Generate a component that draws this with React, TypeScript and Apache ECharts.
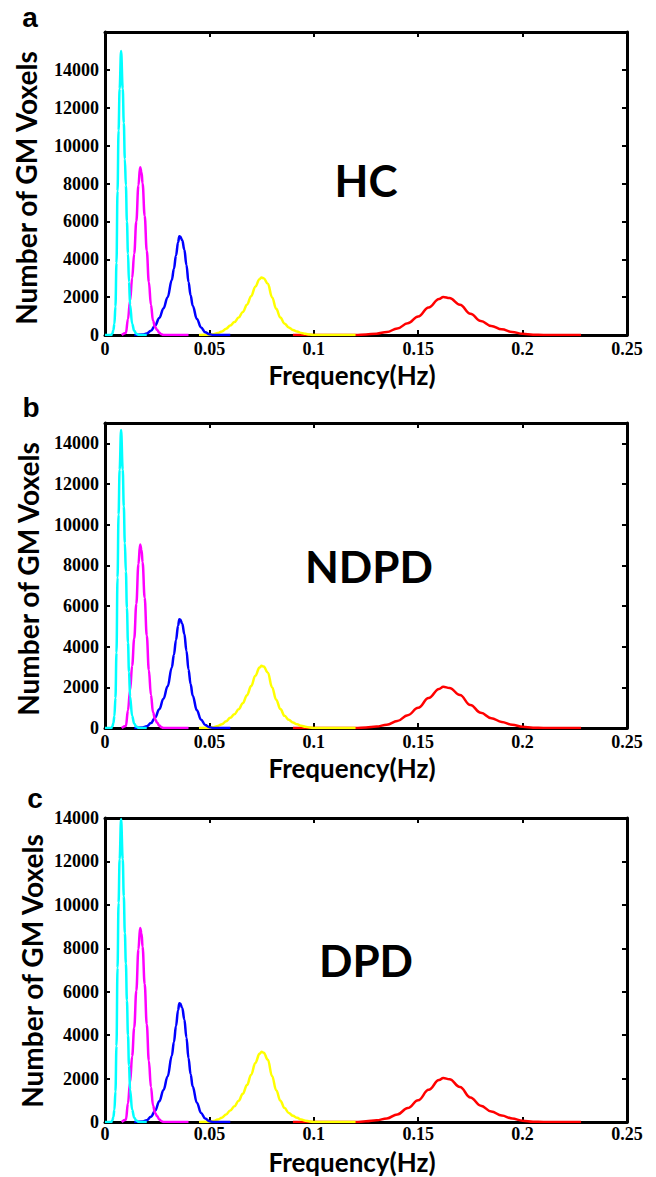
import React, { useEffect, useRef } from "react";
import * as echarts from "echarts";

// ---------- data ----------
const xTickValues = [0, 0.05, 0.1, 0.15, 0.2, 0.25];
const panelLetters = ["a", "b", "c"];
const panelTitles = ["HC", "NDPD", "DPD"];
const yMaxes = [16000, 15000, 14000];

const cyanF = [0, 0.003, 0.0035, 0.004, 0.0045, 0.005, 0.0055, 0.006, 0.0065, 0.007, 0.0077, 0.0085, 0.009, 0.0095, 0.01, 0.0105, 0.011, 0.0115, 0.012, 0.013, 0.014, 0.015, 0.016, 0.017, 0.02];
const cyanA = [0, 0, 60, 250, 600, 1500, 3800, 7600, 10800, 13000, 15000, 13000, 11200, 9300, 7900, 6000, 4300, 2800, 1600, 600, 220, 70, 15, 0, 0];
const cyanB = [0, 0, 60, 240, 590, 1470, 3700, 7400, 10500, 12700, 14650, 12700, 10900, 9100, 7700, 5900, 4200, 2750, 1550, 590, 210, 70, 15, 0, 0];
const cyanC = [0, 0, 55, 230, 560, 1400, 3500, 7100, 10100, 12100, 13950, 12100, 10400, 8700, 7300, 5600, 4000, 2600, 1500, 560, 200, 65, 15, 0, 0];

const magentaF = [0.008, 0.01, 0.011, 0.012, 0.013, 0.014, 0.015, 0.016, 0.0168, 0.0175, 0.018, 0.019, 0.02, 0.021, 0.022, 0.023, 0.024, 0.025, 0.026, 0.027, 0.028, 0.04];
const magentaA = [0, 100, 850, 1800, 3000, 4300, 6000, 7900, 8860, 8600, 8000, 6300, 4450, 2800, 1600, 750, 420, 260, 120, 40, 0, 0];
const magentaB = [0, 100, 870, 1840, 3060, 4400, 6100, 8050, 9030, 8750, 8150, 6400, 4550, 2850, 1630, 770, 430, 260, 120, 40, 0, 0];
const magentaC = [0, 100, 860, 1820, 3030, 4350, 6050, 7950, 8930, 8680, 8070, 6350, 4500, 2820, 1610, 760, 420, 260, 120, 40, 0, 0];

const blueF = [0.014, 0.018, 0.02, 0.022, 0.024, 0.026, 0.028, 0.03, 0.032, 0.033, 0.034, 0.035, 0.0356, 0.036, 0.037, 0.038, 0.039, 0.04, 0.041, 0.042, 0.044, 0.046, 0.048, 0.05, 0.052, 0.06];
const blueA = [0, 20, 80, 230, 500, 900, 1400, 2000, 2900, 3500, 4200, 4900, 5210, 5200, 5000, 4500, 3700, 2800, 2100, 1550, 850, 400, 150, 40, 0, 0];
const blueB = [0, 20, 80, 240, 510, 920, 1440, 2050, 2980, 3600, 4320, 5030, 5350, 5340, 5130, 4620, 3800, 2880, 2160, 1590, 870, 410, 150, 40, 0, 0];
const blueC = [0, 20, 85, 240, 520, 950, 1470, 2100, 3050, 3680, 4420, 5150, 5470, 5460, 5250, 4720, 3890, 2940, 2200, 1630, 890, 420, 160, 40, 0, 0];

const yellowF = [0.045, 0.05, 0.052, 0.054, 0.056, 0.058, 0.06, 0.062, 0.064, 0.066, 0.068, 0.07, 0.072, 0.074, 0.075, 0.076, 0.078, 0.08, 0.082, 0.084, 0.086, 0.088, 0.09, 0.092, 0.094, 0.096, 0.098, 0.1, 0.12];
const yellowA = [0, 15, 40, 100, 190, 330, 500, 680, 920, 1220, 1600, 2050, 2550, 2950, 3040, 3000, 2700, 2000, 1380, 920, 600, 400, 270, 180, 110, 60, 25, 5, 0];
const yellowB = [0, 15, 40, 100, 190, 330, 500, 680, 920, 1220, 1610, 2060, 2570, 2970, 3060, 3020, 2720, 2010, 1390, 930, 600, 400, 270, 180, 110, 60, 25, 5, 0];
const yellowC = [0, 15, 45, 110, 200, 350, 530, 720, 980, 1300, 1700, 2180, 2720, 3140, 3230, 3190, 2870, 2120, 1460, 980, 640, 420, 285, 190, 115, 62, 25, 5, 0];

const redF = [0.09, 0.12, 0.125, 0.13, 0.135, 0.14, 0.145, 0.15, 0.155, 0.16, 0.162, 0.165, 0.17, 0.175, 0.18, 0.185, 0.19, 0.195, 0.2, 0.205, 0.21, 0.228];
const redA = [0, 0, 30, 70, 160, 340, 620, 980, 1450, 1900, 2010, 1950, 1600, 1120, 740, 480, 300, 160, 60, 15, 0, 0];
const redB = [0, 0, 30, 70, 160, 345, 630, 990, 1470, 1920, 2030, 1970, 1620, 1130, 750, 485, 300, 160, 60, 15, 0, 0];
const redC = [0, 0, 30, 75, 165, 350, 640, 1000, 1480, 1930, 2030, 1970, 1610, 1130, 750, 485, 300, 160, 60, 15, 0, 0];

const panelSeries = [
  { cyan: cyanA, magenta: magentaA, blue: blueA, yellow: yellowA, red: redA },
  { cyan: cyanB, magenta: magentaB, blue: blueB, yellow: yellowB, red: redB },
  { cyan: cyanC, magenta: magentaC, blue: blueC, yellow: yellowC, red: redC },
];

// ---------- layout ----------
const W = 656;
const H = 1177;
const GRID_LEFT = 105;
const GRID_WIDTH = 522;
const gridTops = [32, 423, 818];
const gridHeights = [303, 305, 304];
const letterPos = [[30, 17], [31, 407], [35, 798]];
const yTitlePos = [[26, 188], [28, 579], [32, 971]];
const xTitleY = [375, 768, 1162];
const xLabelMargin = [5, 5, 3];
const titlePos = [[366, 180], [369, 566], [366, 960]];

const SANS = "Lato";
const SERIF = "Liberation Serif";

function buildOption() {
  const grids: any[] = [];
  const xAxes: any[] = [];
  const yAxes: any[] = [];
  const series: any[] = [];
  const graphics: any[] = [];

  const lineStyle = { color: "#000", width: 3 };
  const tick = { show: true, inside: true, length: 5, lineStyle: { color: "#000", width: 2 } };

  for (let i = 0; i < 3; i++) {
    grids.push({ left: GRID_LEFT, top: gridTops[i], width: GRID_WIDTH, height: gridHeights[i], containLabel: false });
    const xBase = {
      gridIndex: i, type: "value", min: 0, max: 0.25, interval: 0.05,
      axisLine: { show: true, onZero: false, lineStyle },
      axisTick: tick, splitLine: { show: false },
    };
    xAxes.push({
      ...xBase, position: "bottom",
      axisLabel: {
        show: true, color: "#000", fontFamily: SERIF, fontWeight: "bold", fontSize: 18, margin: xLabelMargin[i],
        formatter: (v: number) => (xTickValues.includes(+v.toFixed(2)) ? String(+v.toFixed(2)) : ""),
      },
    });
    xAxes.push({ ...xBase, position: "top", axisLabel: { show: false } });
    const yBase = {
      gridIndex: i, type: "value", min: 0, max: yMaxes[i], interval: 2000,
      axisLine: { show: true, onZero: false, lineStyle },
      axisTick: tick, splitLine: { show: false },
    };
    yAxes.push({
      ...yBase, position: "left",
      axisLabel: {
        show: true, color: "#000", fontFamily: SERIF, fontWeight: "bold", fontSize: 18, margin: 6,
        showMaxLabel: i === 2,
        formatter: (v: number) => String(Math.round(v)),
      },
    });
    yAxes.push({ ...yBase, position: "right", axisLabel: { show: false } });

    const d = panelSeries[i];
    const curves = [
      { F: redF, V: d.red, color: "#FF0000" },
      { F: yellowF, V: d.yellow, color: "#FFFF00" },
      { F: blueF, V: d.blue, color: "#0000FF" },
      { F: magentaF, V: d.magenta, color: "#FF00FF" },
      { F: cyanF, V: d.cyan, color: "#00FFFF" },
    ];
    curves.forEach((c, k) => {
      series.push({
        type: "line",
        xAxisIndex: 2 * i,
        yAxisIndex: 2 * i,
        data: c.F.map((f, j) => [f, c.V[j]]),
        showSymbol: false,
        symbol: "none",
        smooth: 0.4,
        smoothMonotone: "x",
        lineStyle: { color: c.color, width: 2.5 },
        itemStyle: { color: c.color },
        z: 3 + k,
        silent: true,
      });
    });

    graphics.push({
      type: "text", x: letterPos[i][0], y: letterPos[i][1],
      style: { text: panelLetters[i], font: `bold 28px "Liberation Sans"`, fill: "#000", textAlign: "center", textVerticalAlign: "middle" },
    });
    graphics.push({
      type: "text", x: yTitlePos[i][0], y: yTitlePos[i][1], rotation: Math.PI / 2,
      style: { text: "Number of GM Voxels", font: `bold 28px ${SANS}`, fill: "#000", textAlign: "center", textVerticalAlign: "middle" },
    });
    graphics.push({
      type: "text", x: 352, y: xTitleY[i],
      style: { text: "Frequency(Hz)", font: `bold 26px ${SANS}`, fill: "#000", textAlign: "center", textVerticalAlign: "middle" },
    });
    graphics.push({
      type: "text", x: titlePos[i][0], y: titlePos[i][1],
      style: { text: panelTitles[i], font: `bold 44px ${SANS}`, fill: "#000", textAlign: "center", textVerticalAlign: "middle" },
    });
  }

  return {
    animation: false,
    backgroundColor: "#fff",
    grid: grids,
    xAxis: xAxes,
    yAxis: yAxes,
    series,
    graphic: graphics,
  };
}

export default function App() {
  const ref = useRef<HTMLDivElement>(null);
  useEffect(() => {
    document.body.style.margin = "0";
    if (!ref.current) return;
    const chart = echarts.init(ref.current, null, { renderer: "svg", width: W, height: H });
    chart.setOption(buildOption());
    return () => chart.dispose();
  }, []);
  return <div ref={ref} style={{ width: W, height: H }} />;
}
